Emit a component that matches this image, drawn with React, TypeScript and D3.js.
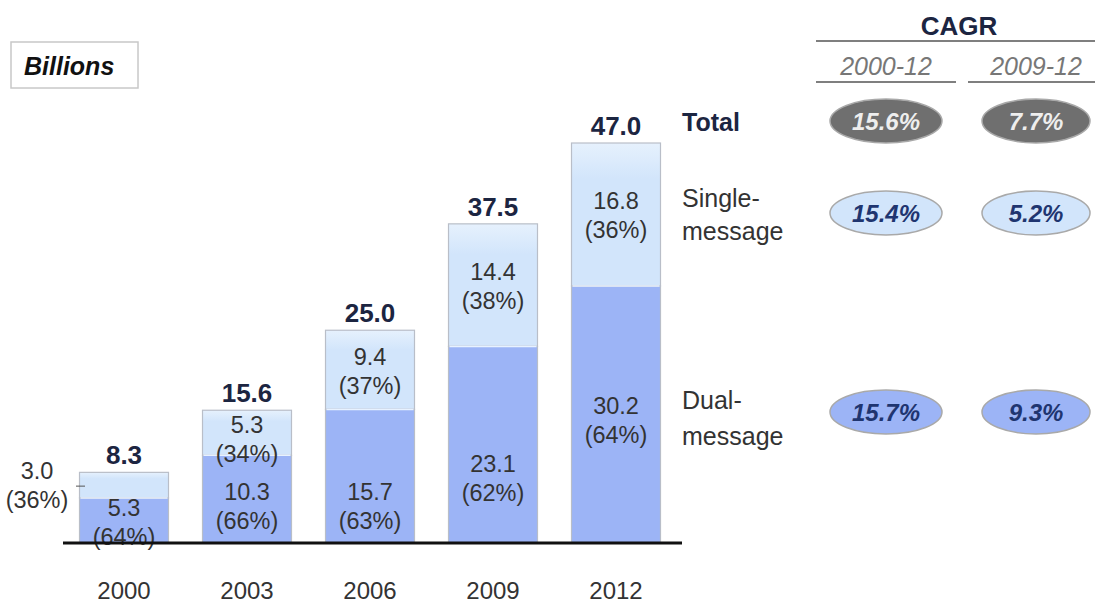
import React from "react";
import * as d3 from "d3";

const years = ["2000", "2003", "2006", "2009", "2012"];
const dualValues = [5.3, 10.3, 15.7, 23.1, 30.2];
const dualShares = ["64%", "66%", "63%", "62%", "64%"];
const singleValues = [3.0, 5.3, 9.4, 14.4, 16.8];
const singleShares = ["36%", "34%", "37%", "38%", "36%"];
const totals = [8.3, 15.6, 25.0, 37.5, 47.0];

const cagrPeriods = ["2000-12", "2009-12"];
const cagrTotal = ["15.6%", "7.7%"];
const cagrSingle = ["15.4%", "5.2%"];
const cagrDual = ["15.7%", "9.3%"];

// layout tweaks for dual label placement (fraction of segment height from its bottom)
const dualLabelFrac = [0.47, 0.42, 0.28, 0.33, 0.48];

const FONT = "'Liberation Sans', Arial, Helvetica, sans-serif";
const NAVY = "#1c2541";
const TXT = "#333333";
const DUAL = "#9cb4f6";
const SINGLE = "#d2e5fb";
const BORDER = "#b9bec8";
const SEG = 23.5;

export default function App() {
  const W = 1095, H = 604;
  const x = d3.scalePoint<string>().domain(years).range([124, 616]);
  const y = d3.scaleLinear().domain([0, 47]).range([543, 143]);
  const bw = 89;

  const cagrX = d3.scalePoint<string>().domain(cagrPeriods).range([886, 1036]);
  const rows = [
    { vals: cagrTotal, cy: 121, fill: "#6f6f6f", text: "#eeeeee" },
    { vals: cagrSingle, cy: 213, fill: SINGLE, text: "#1f3570" },
    { vals: cagrDual, cy: 412, fill: DUAL, text: "#1f3570" },
  ];

  const two = (cx: number, c1: number, a: string, b: string) => (
    <g>
      <text x={cx} y={c1 + 8.5} textAnchor="middle" fontSize={SEG} fill={TXT}>{a}</text>
      <text x={cx} y={c1 + 29 + 8.5} textAnchor="middle" fontSize={SEG} fill={TXT}>{b}</text>
    </g>
  );

  return (
    <svg width={W} height={H} style={{ position: "absolute", left: 0, top: 0, background: "#fff" }} fontFamily={FONT}>
      <defs>
        <linearGradient id="singleGrad" x1="0" y1="0" x2="0" y2="1">
          <stop offset="0" stopColor="#e6f1fd" />
          <stop offset="0.25" stopColor={SINGLE} />
          <stop offset="1" stopColor={SINGLE} />
        </linearGradient>
      </defs>

      {/* Billions box */}
      <rect x={11} y={42} width={127} height={46} fill="#fff" stroke="#c8c8c8" strokeWidth={1.5} />
      <text x={24} y={75} fontSize={25} fontWeight="bold" fontStyle="italic" fill="#111">Billions</text>

      {/* bars */}
      {years.map((yr, i) => {
        const cx = x(yr)!;
        const x0 = cx - bw / 2;
        const yBase = y(0);
        const yDual = y(dualValues[i]);
        const yTop = y(totals[i]);
        const dualMid = yBase - (yBase - yDual) * dualLabelFrac[i];
        const singleMid = (yDual + yTop) / 2 + (i === 1 ? 6 : 1);
        return (
          <g key={yr}>
            <rect x={x0} y={yTop} width={bw} height={yDual - yTop} fill="url(#singleGrad)" stroke={BORDER} strokeWidth={1.2} />
            <rect x={x0} y={yDual} width={bw} height={yBase - yDual} fill={DUAL} stroke={BORDER} strokeWidth={1.2} />
            <line x1={x0 + 1} x2={x0 + bw - 1} y1={yDual} y2={yDual} stroke="#e8f2ff" strokeWidth={1.5} />
            <text x={cx} y={yTop - 8} textAnchor="middle" fontSize={26} fontWeight="bold" fill={NAVY}>
              {totals[i].toFixed(1)}
            </text>
            {i > 0 ? (
              two(cx, singleMid - 14.5, singleValues[i].toFixed(1), `(${singleShares[i]})`)
            ) : (
              <g>
                {two(37, 470, singleValues[i].toFixed(1), `(${singleShares[i]})`)}
                <line x1={76} x2={85} y1={singleMid} y2={singleMid} stroke="#555" strokeWidth={1} />
              </g>
            )}
            {two(cx, dualMid - 14.5, dualValues[i].toFixed(1), `(${dualShares[i]})`)}
            <text x={cx} y={599} textAnchor="middle" fontSize={24} fill={TXT}>{yr}</text>
          </g>
        );
      })}

      {/* baseline */}
      <line x1={63} x2={682} y1={y(0)} y2={y(0)} stroke="#111" strokeWidth={3} />

      {/* legend labels */}
      <text x={682} y={131} fontSize={25} fontWeight="bold" fill={NAVY}>Total</text>
      <text x={682} y={207} fontSize={25} fill={TXT}>Single-</text>
      <text x={682} y={240} fontSize={25} fill={TXT}>message</text>
      <text x={682} y={409} fontSize={25} fill={TXT}>Dual-</text>
      <text x={682} y={445} fontSize={25} fill={TXT}>message</text>

      {/* CAGR header */}
      <text x={959} y={35} textAnchor="middle" fontSize={26} fontWeight="bold" fill={NAVY}>CAGR</text>
      <line x1={816} x2={1095} y1={41} y2={41} stroke="#555" strokeWidth={1.5} />
      {cagrPeriods.map((p, j) => (
        <g key={p}>
          <text x={cagrX(p)!} y={75} textAnchor="middle" fontSize={25} fontStyle="italic" fill="#777">{p}</text>
          <line x1={j === 0 ? 816 : 968} x2={j === 0 ? 956 : 1095} y1={82} y2={82} stroke="#555" strokeWidth={1.5} />
        </g>
      ))}

      {rows.map((r, ri) =>
        cagrPeriods.map((p, j) => (
          <g key={ri + "-" + j}>
            <ellipse cx={cagrX(p)!} cy={r.cy} rx={j === 0 ? 56 : 54} ry={22} fill={r.fill} stroke="#a9a9a9" strokeWidth={1.5} />
            <text x={cagrX(p)!} y={r.cy + 8.5} textAnchor="middle" fontSize={24} fontWeight="bold" fontStyle="italic" fill={r.text}>
              {r.vals[j]}
            </text>
          </g>
        ))
      )}
    </svg>
  );
}
